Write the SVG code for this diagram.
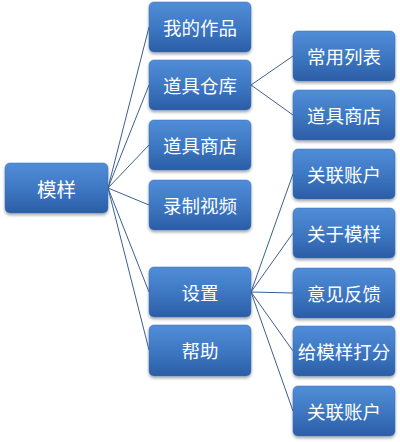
<svg xmlns="http://www.w3.org/2000/svg" width="400" height="442" viewBox="0 0 400 442">
<defs>
<linearGradient id="g" x1="0" y1="0" x2="0" y2="1">
<stop offset="0" stop-color="#518dd8"/>
<stop offset="0.5" stop-color="#3e78c3"/>
<stop offset="1" stop-color="#2b5da6"/>
</linearGradient>
<filter id="sh" x="-10%" y="-10%" width="120%" height="130%">
<feGaussianBlur in="SourceAlpha" stdDeviation="1.5"/>
<feOffset dy="2" result="b"/>
<feComponentTransfer><feFuncA type="linear" slope="0.35"/></feComponentTransfer>
<feMerge><feMergeNode/><feMergeNode in="SourceGraphic"/></feMerge>
</filter>
</defs>
<style>
.n rect{fill:url(#g);stroke:#3a6fb5;stroke-width:0.5;filter:url(#sh)}
.n text{fill:#fff;font-family:"Noto Sans CJK SC",sans-serif;font-size:18.5px;text-anchor:middle;dominant-baseline:central}
#root text{font-size:19.5px}
#edges line{stroke:#3d5f8f;stroke-width:1}
</style>
<rect width="400" height="442" fill="#fff"/>
<g id="edges">
<line x1="108" y1="188" x2="149" y2="27"/>
<line x1="108" y1="188" x2="149" y2="85"/>
<line x1="108" y1="188" x2="149" y2="145"/>
<line x1="108" y1="188" x2="149" y2="205"/>
<line x1="108" y1="188" x2="149" y2="292"/>
<line x1="108" y1="188" x2="149" y2="350"/>
<line x1="251" y1="85" x2="293" y2="56"/>
<line x1="251" y1="85" x2="293" y2="115"/>
<line x1="251" y1="292" x2="293" y2="174"/>
<line x1="251" y1="292" x2="293" y2="233"/>
<line x1="251" y1="292" x2="293" y2="293"/>
<line x1="251" y1="292" x2="293" y2="351"/>
<line x1="251" y1="292" x2="293" y2="411"/>
</g>
<g id="root" class="n"><rect x="5" y="163" width="103" height="50" rx="5"/><text x="56.5" y="188">模样</text></g>
<g id="works" class="n"><rect x="149" y="2" width="102" height="50" rx="5"/><text x="200" y="27">我的作品</text></g>
<g id="warehouse" class="n"><rect x="149" y="60" width="102" height="50" rx="5"/><text x="200" y="85">道具仓库</text></g>
<g id="shop" class="n"><rect x="149" y="120" width="102" height="50" rx="5"/><text x="200" y="145">道具商店</text></g>
<g id="record" class="n"><rect x="149" y="180" width="102" height="50" rx="5"/><text x="200" y="205">录制视频</text></g>
<g id="settings" class="n"><rect x="149" y="267" width="102" height="50" rx="5"/><text x="200" y="292">设置</text></g>
<g id="help" class="n"><rect x="149" y="325" width="102" height="51" rx="5"/><text x="200" y="350">帮助</text></g>
<g id="common" class="n"><rect x="293" y="31" width="102" height="50" rx="5"/><text x="344" y="56">常用列表</text></g>
<g id="shop2" class="n"><rect x="293" y="90" width="102" height="50" rx="5"/><text x="344" y="115">道具商店</text></g>
<g id="link1" class="n"><rect x="293" y="149" width="102" height="50" rx="5"/><text x="344" y="174">关联账户</text></g>
<g id="about" class="n"><rect x="293" y="208" width="102" height="50" rx="5"/><text x="344" y="233">关于模样</text></g>
<g id="feedback" class="n"><rect x="293" y="268" width="102" height="50" rx="5"/><text x="344" y="293">意见反馈</text></g>
<g id="rate" class="n"><rect x="293" y="326" width="102" height="50" rx="5"/><text x="344" y="351">给模样打分</text></g>
<g id="link2" class="n"><rect x="293" y="386" width="102" height="50" rx="5"/><text x="344" y="411">关联账户</text></g>
</svg>
